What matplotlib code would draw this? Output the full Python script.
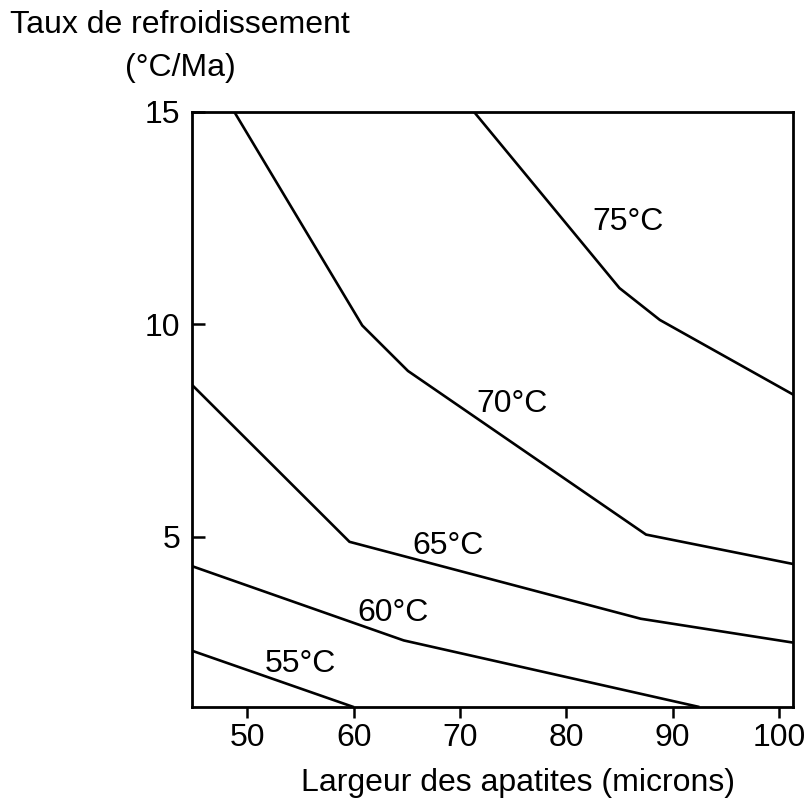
# Cooling rate vs apatite width, isotherms
import matplotlib
matplotlib.use("Agg")
import matplotlib.pyplot as plt

plt.rcParams['font.family'] = ['Liberation Sans', 'DejaVu Sans']

# isotherm curves (x = largeur des apatites, y = taux de refroidissement)
x_75 = [71.3, 85.0, 88.8, 101.3]
y_75 = [15.0, 10.85, 10.1, 8.35]
x_70 = [48.75, 60.8, 65.1, 87.5, 101.3]
y_70 = [15.0, 9.97, 8.9, 5.05, 4.36]
x_65 = [44.75, 59.6, 87.0, 101.3]
y_65 = [8.58, 4.88, 3.07, 2.51]
x_60 = [44.75, 64.7, 92.4]
y_60 = [4.31, 2.56, 1.0]
x_55 = [44.75, 59.9]
y_55 = [2.32, 1.0]

curves = [(x_75, y_75), (x_70, y_70), (x_65, y_65), (x_60, y_60), (x_55, y_55)]
labels = ['75°C', '70°C', '65°C', '60°C', '55°C']
label_x = [85.8, 74.9, 68.9, 63.7, 55.0]
label_y = [12.4, 8.13, 4.78, 3.2, 2.0]

xticks = [50, 60, 70, 80, 90, 100]
yticks = [5, 10, 15]

fs = 23

fig = plt.figure(figsize=(8.06, 8.0), dpi=100)
ax = fig.add_axes([0.2378, 0.1166, 0.7457, 0.7438])

for (xs, ys) in curves:
    ax.plot(xs, ys, color='black', lw=1.9, solid_joinstyle='miter')

for lab, lx, ly in zip(labels, label_x, label_y):
    ax.text(lx, ly, lab, fontsize=fs, ha='center', va='center')

ax.set_xlim(44.75, 101.3)
ax.set_ylim(1.0, 15.0)
ax.set_xticks(xticks)
ax.set_yticks(yticks)
ax.tick_params(axis='x', direction='out', length=8, width=1.8, pad=4, labelsize=fs)
ax.tick_params(axis='y', direction='in', length=9, width=1.8, pad=8, labelsize=fs)
for s in ax.spines.values():
    s.set_linewidth(2.0)

ax.set_xlabel('Largeur des apatites (microns)', fontsize=fs)
ax.xaxis.set_label_coords(0.543, -0.103)
fig.text(180 / 806, 1 - 25 / 800, 'Taux de refroidissement', fontsize=fs, ha='center', va='center')
fig.text(180 / 806, 1 - 68 / 800, '(°C/Ma)', fontsize=fs, ha='center', va='center')

fig.savefig('out.png', dpi=100)
